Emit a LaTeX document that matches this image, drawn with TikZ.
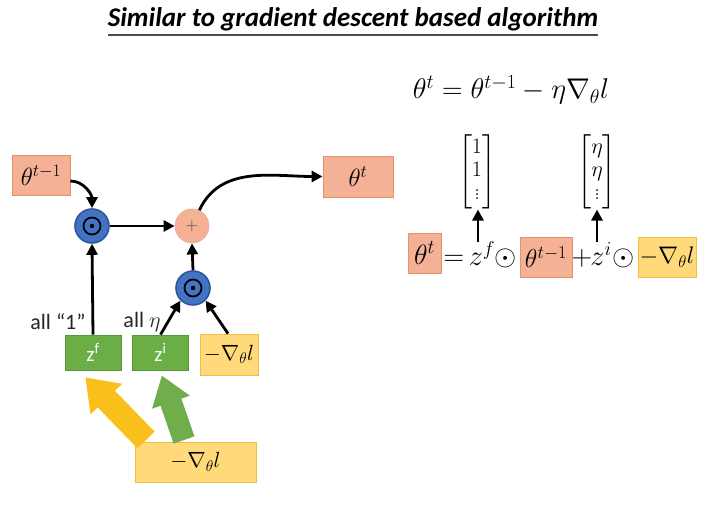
\RequirePackage{fix-cm}
\documentclass[tikz,border=0pt]{standalone}
\usepackage{amsmath}
\usepackage{fontspec}
\setsansfont{Carlito}
\usetikzlibrary{arrows.meta,calc}
\definecolor{salmon}{HTML}{F5B196}
\definecolor{salmonD}{HTML}{E8906D}
\definecolor{gold}{HTML}{FFD97A}
\definecolor{goldD}{HTML}{F0BE42}
\definecolor{grn}{HTML}{6AAE45}
\definecolor{grnD}{HTML}{57963A}
\definecolor{blu}{HTML}{4472C4}
\definecolor{bluD}{HTML}{2F559A}
\definecolor{yarrow}{HTML}{F9C01C}
\definecolor{garrow}{HTML}{6FAE4A}
\begin{document}
\begin{tikzpicture}[x=1pt,y=1pt,
  salbox/.style={draw=salmonD, fill=salmon, line width=0.8pt, inner sep=0pt, font=\fontsize{25}{28}\selectfont},
  goldbox/.style={draw=goldD, fill=gold, line width=0.8pt, inner sep=0pt, font=\fontsize{22}{26}\selectfont},
  grnbox/.style={draw=grnD, fill=grn, line width=0.8pt, inner sep=0pt, text=white, font=\sffamily\fontsize{21}{24}\selectfont, minimum width=56pt, minimum height=35pt},
  dotop/.style={circle, fill=blu, draw=bluD, line width=1.6pt, minimum size=34pt, inner sep=0pt,
     path picture={\draw[line width=1.7pt, black] (path picture bounding box.center) circle (8.5pt);
                   \fill[black] (path picture bounding box.center) circle (2.2pt);}},
  plusop/.style={circle, fill=salmon, draw=salmonD!70, line width=0.8pt, minimum size=34pt, inner sep=0pt, font=\fontsize{17}{20}\selectfont, text=black!75},
  arr/.style={line width=2.8pt, -{Triangle[length=11pt,width=11pt]}},
  lbl/.style={font=\sffamily\fontsize{22}{24}\selectfont, text=black!85},
  eq/.style={font=\fontsize{28.5}{32}\selectfont, inner sep=0pt},
  vec/.style={font=\fontsize{22}{23}\selectfont, inner sep=0pt}
]
\useasboundingbox (0,0) rectangle (716,516);

% title
\node[font=\sffamily\bfseries\itshape\fontsize{27}{30}\selectfont] (title) at (353,497) {Similar to gradient descent based algorithm};
\draw[line width=1.3pt, black!70] (108,481) -- (598,481);

% left diagram nodes
\node[salbox, minimum width=58pt, minimum height=40pt] (tm1) at (41,341) {$\theta^{t-1}$};
\node[salbox, minimum width=70pt, minimum height=41pt] (tt) at (358,339.5) {$\theta^{t}$};
\node[dotop] (d1) at (92,290) {};
\node[plusop] (pl) at (192,290) {$+$};
\node[dotop] (d2) at (193,228) {};
\node[grnbox] (zf) at (93,163.5) {z\textsuperscript{f}};
\node[grnbox] (zi) at (160.5,163.5) {z\textsuperscript{i}};
\node[goldbox, minimum width=58pt, minimum height=41pt] (gs) at (229,161.5) {$-\nabla_{\theta} l$};
\node[goldbox, minimum width=121pt, minimum height=40pt] (gb) at (195.5,54) {$-\nabla_{\theta} l$};
\node[lbl] (l1) at (58,194) {all “1”};
\node[lbl] (l2) at (142,194) {all $\eta$};

% connectors
\draw[arr] ($(tm1.east)+(0,-6)$) to[out=0,in=90] (d1.north);
\draw[arr] (d1.east) -- (pl.west);
\draw[arr] (pl.65) to[out=65,in=180] (tt.west);
\draw[arr] (zf.north) -- (d1.south);
\draw[arr] (d2.north) -- (pl.south);
\draw[arr] (zi.north) -- (d2.225);
\draw[arr] ($(gs.north)+(-1,0)$) -- (d2.315);
\draw[line width=1.4pt] ($(gs.south)+(-6,0)$) -- ($(gs.south)+(-6,0)$ |- gb.north);
\draw[line width=1.4pt] ($(gs.south)+(0,0)$) -- ($(gs.south)+(0,0)$ |- gb.north);

% fat arrows
\begin{scope}[shift={(146,76)}, rotate=134.1]
  \fill[yarrow] (0,-12) -- (57,-12) -- (57,-22) -- (87,0) -- (57,22) -- (57,12) -- (0,12) -- cycle;
\end{scope}
\begin{scope}[shift={(184,76)}, rotate=109]
  \fill[garrow] (0,-11) -- (40,-11) -- (40,-20) -- (68,0) -- (40,20) -- (40,11) -- (0,11) -- cycle;
\end{scope}

% right: equation
\node[eq] (e1) at (511,426) {$\theta^{t} = \theta^{t-1} - \eta\nabla_{\theta} l$};

\node[salbox, minimum width=33pt, minimum height=40pt, font=\fontsize{28}{30}\selectfont] (rt) at (424.5,263) {$\theta^{t}$};
\node[salbox, minimum width=52pt, minimum height=40pt, font=\fontsize{26}{30}\selectfont] (rtm1) at (546,259) {$\theta^{t-1}$};
\node[goldbox, minimum width=58pt, minimum height=40pt, font=\fontsize{24}{26}\selectfont] (rg) at (667,259) {$-\nabla_{\theta} l$};
\node[eq, anchor=base] (eq1) at (454,250) {$=$};
\node[eq, anchor=base] (zfr) at (482,250) {$z^{f}$};
\node[eq, anchor=base] (od1) at (506,250) {$\odot$};
\node[eq, anchor=base] (pls) at (582,250) {$+$};
\node[eq, anchor=base] (zir) at (601,250) {$z^{i}$};
\node[eq, anchor=base] (od2) at (624,250) {$\odot$};

\node[vec] (v1) at (477,344) {$\setlength\arraycolsep{2pt}\begin{bmatrix}1\\1\\\vdots\end{bmatrix}$};
\node[vec] (v2) at (597,344) {$\setlength\arraycolsep{2pt}\begin{bmatrix}\eta\\\eta\\\vdots\end{bmatrix}$};
\coordinate (a1) at (478,274);
\coordinate (a2) at (597,274);
\draw[arr] (a1) -- (v1.south -| a1);
\draw[arr] (a2) -- (v2.south -| a2);
\end{tikzpicture}
\end{document}
